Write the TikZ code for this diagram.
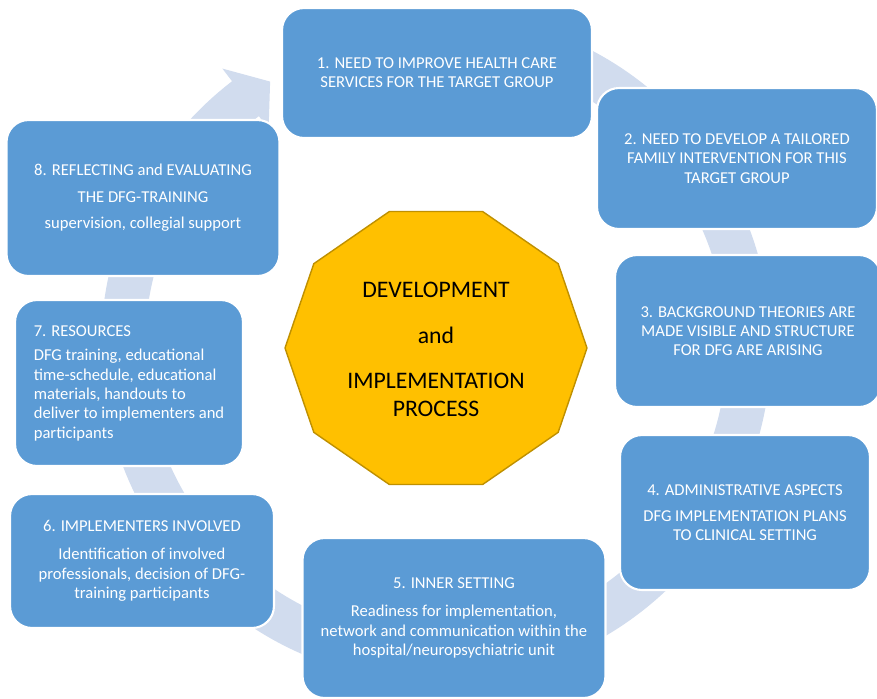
\documentclass[tikz,border=0pt]{standalone}
\usepackage{fontspec}
\setmainfont{Carlito}
\usetikzlibrary{shapes,calc}

\definecolor{boxblue}{RGB}{91,155,213}
\definecolor{ringblue}{RGB}{209,220,238}
\definecolor{hubgold}{RGB}{255,192,0}
\definecolor{hubline}{RGB}{191,144,0}

\begin{document}
\begin{tikzpicture}[x=0.02cm,y=-0.02cm,
    stage/.style={draw=white,line width=1.2pt,fill=boxblue,rounded corners=0.44cm,
        text=white,align=center,inner sep=0pt,font=\fontsize{9.45}{11}\selectfont},
    ring/.style={fill=ringblue}]
\useasboundingbox (0,0) rectangle (877,698);
\clip (0,0) rectangle (877,698);
    % centre of the cycle
    \coordinate (hub) at (436,347);
    \coordinate (core) at (436,348);
    % Draw the cycle arrows, each one ends under the next box
    \begin{scope}[shift={(hub)}]
    \foreach \a/\b in {-100/-45,-28/2,-8/35,20/75,100/140,145/168,178/200,212/232.5}
        \fill[ring] (\a:335) arc[start angle=\a,end angle=\b,radius=335]
            -- (\b:351) -- ({\b+5.5}:313) -- (\b:275) -- (\b:291)
            arc[start angle=\b,end angle=\a,radius=291] -- cycle;
    \end{scope}
    % Draw the eight stages
    \node[stage,minimum width=6.2cm,minimum height=2.6cm] (need) at (437,73)
        {1. NEED TO IMPROVE HEALTH CARE\\SERVICES FOR THE TARGET GROUP};
    \node[stage,minimum width=5.6cm,minimum height=2.82cm] (tailor) at (737,158.5)
        {2. NEED TO DEVELOP A TAILORED\\FAMILY INTERVENTION FOR THIS\\TARGET GROUP};
    \node[stage,minimum width=5.32cm,minimum height=3.04cm] (theory) at (748,331)
        {3. BACKGROUND THEORIES ARE\\MADE VISIBLE AND STRUCTURE\\FOR DFG ARE ARISING};
    \node[stage,minimum width=5cm,minimum height=3.1cm] (admin) at (745,512.5)
        {4. ADMINISTRATIVE ASPECTS\\[4pt]DFG IMPLEMENTATION PLANS\\TO CLINICAL SETTING};
    \node[stage,minimum width=6.06cm,minimum height=3.2cm] (inner) at (454,618)
        {5. INNER SETTING\\[5pt]Readiness for implementation,\\network and communication within the\\hospital/neuropsychiatric unit};
    \node[stage,minimum width=5.28cm,minimum height=2.68cm] (staff) at (142,561)
        {6. IMPLEMENTERS INVOLVED\\[5pt]Identification of involved\\professionals, decision of DFG-\\training participants};
    \node[stage,align=left,minimum width=4.56cm,minimum height=3.32cm] (means) at (129,383)
        {7. RESOURCES\\[3pt]DFG training, educational\\time-schedule, educational\\materials, handouts to\\deliver to implementers and\\participants};
    \node[stage,minimum width=5.46cm,minimum height=3.12cm] (review) at (143,198)
        {8. REFLECTING and EVALUATING\\[4pt]THE DFG-TRAINING\\[4pt]supervision, collegial support};
    % Draw the decagon in the middle
    \begin{scope}[shift={(core)}]
    \filldraw[fill=hubgold,draw=hubline,line width=0.8pt] (0:151 and 143.5)
        \foreach \t in {36,72,...,324} { -- (\t:151 and 143.5)} -- cycle;
    \end{scope}
    \node[align=center,font=\fontsize{13.5}{16}\selectfont] (process) at (436,349.5)
        {DEVELOPMENT\\[10pt]and\\[10pt]IMPLEMENTATION\\PROCESS};
\end{tikzpicture}
\end{document}
